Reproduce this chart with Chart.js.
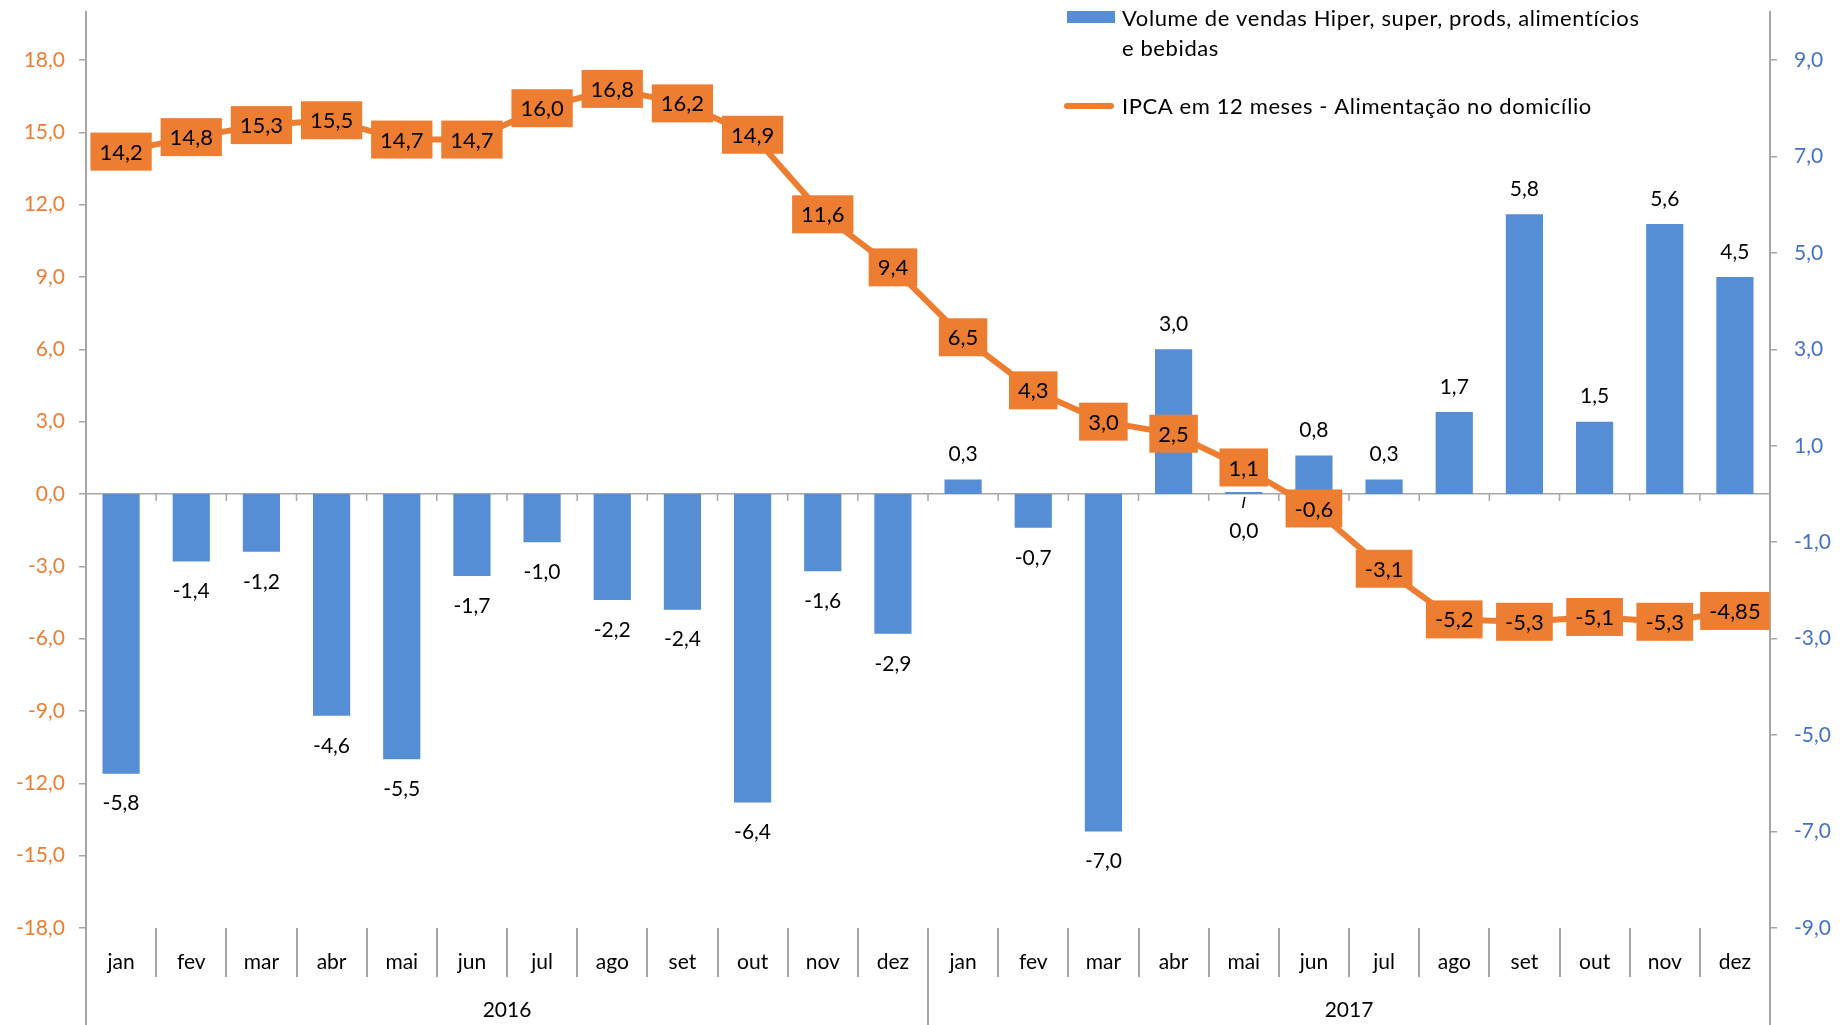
<!DOCTYPE html>
<html>
<head>
<meta charset="utf-8">
<script src="https://cdn.jsdelivr.net/npm/chart.js@4.4.1/dist/chart.umd.min.js"></script>
<style>
html,body{margin:0;padding:0;background:#fff;}
#wrap{position:relative;width:1847px;height:1025px;}
</style>
</head>
<body>
<div id="wrap"><canvas id="c" width="1847" height="1025"></canvas></div>
<script>
const months = ['jan','fev','mar','abr','mai','jun','jul','ago','set','out','nov','dez',
                'jan','fev','mar','abr','mai','jun','jul','ago','set','out','nov','dez'];
const years = ['2016','2017'];
const salesVolume = [-5.8,-1.4,-1.2,-4.6,-5.5,-1.7,-1.0,-2.2,-2.4,-6.4,-1.6,-2.9,
                     0.3,-0.7,-7.0,3.0,0.04,0.8,0.3,1.7,5.8,1.5,5.6,4.5];
const ipcaFood = [14.2,14.8,15.3,15.5,14.7,14.7,16.0,16.8,16.2,14.9,11.6,9.4,
                  6.5,4.3,3.0,2.5,1.1,-0.6,-3.1,-5.2,-5.3,-5.1,-5.3,-4.85];
const salesLabelLines = ['Volume de vendas Hiper, super, prods, alimentícios', 'e bebidas'];
const ipcaLabel = 'IPCA em 12 meses - Alimentação no domicílio';

const FONT = 'Lato, "Open Sans", sans-serif';
const ORANGE = '#ED7D31';
const BLUE = '#558ED5';
const AXISBLUE = '#4472C4';
const GRAY = '#a6a6a6';

function fmt(v){
  const r = Math.abs(Math.round(v*10) - v*10) < 1e-6;
  return (r ? v.toFixed(1) : v.toFixed(2)).replace('.', ',');
}
function fmt1(v){ return v.toFixed(1).replace('.', ','); }

const decor = {
  id: 'decor',
  afterDatasetsDraw(chart){
    const ctx = chart.ctx;
    const ca = chart.chartArea;
    const x = chart.scales.x, y2 = chart.scales.y2, y = chart.scales.y;
    ctx.save();
    // vertical axis lines
    ctx.strokeStyle = GRAY; ctx.lineWidth = 2;
    ctx.beginPath();
    ctx.moveTo(ca.left, 11); ctx.lineTo(ca.left, chart.height);
    ctx.moveTo(ca.right, 11); ctx.lineTo(ca.right, chart.height);
    ctx.stroke();
    // small tick marks on zero line
    const zeroY = y.getPixelForValue(0);
    ctx.lineWidth = 1.5;
    ctx.beginPath();
    const step = (ca.right - ca.left) / months.length;
    for (let i = 1; i < months.length; i++){
      const px = x.getPixelForValue(i) - step/2;
      ctx.moveTo(px, zeroY); ctx.lineTo(px, zeroY + 7);
    }
    ctx.stroke();
    // year separator and labels
    ctx.lineWidth = 2;
    ctx.beginPath();
    const sep = (x.getPixelForValue(11) + x.getPixelForValue(12)) / 2;
    ctx.moveTo(sep, ca.bottom); ctx.lineTo(sep, chart.height);
    ctx.stroke();
    ctx.fillStyle = '#000';
    ctx.font = '21px ' + FONT;
    ctx.textAlign = 'center'; ctx.textBaseline = 'middle';
    years.forEach((yr, k) => {
      const a = x.getPixelForValue(k*12), b = x.getPixelForValue(k*12 + 11);
      ctx.fillText(yr, (a + b)/2, 1010);
    });
    // bar labels
    const barMeta = chart.getDatasetMeta(1);
    barMeta.data.forEach((el, i) => {
      const v = salesVolume[i];
      let yy;
      if (v >= 0.1) yy = y2.getPixelForValue(v) - 25;
      else if (v >= 0) {
        yy = zeroY + 37;
        ctx.strokeStyle = '#000'; ctx.lineWidth = 1.5;
        ctx.beginPath(); ctx.moveTo(el.x + 1, zeroY + 3); ctx.lineTo(el.x - 1, zeroY + 14); ctx.stroke();
      }
      else yy = y2.getPixelForValue(v) + 30;
      ctx.fillText(fmt1(v), el.x, yy);
    });
    // line labels
    const lineMeta = chart.getDatasetMeta(0);
    ctx.font = '22px ' + FONT;
    lineMeta.data.forEach((el, i) => {
      const t = fmt(ipcaFood[i]);
      const w = ctx.measureText(t).width + 18;
      const h = 38;
      ctx.fillStyle = ORANGE;
      ctx.fillRect(el.x - w/2, el.y - h/2, w, h);
      ctx.fillStyle = '#000';
      ctx.fillText(t, el.x, el.y + 1);
    });
    // legend
    ctx.textAlign = 'left';
    ctx.font = '22px ' + FONT;
    try { ctx.letterSpacing = '0.6px'; } catch(e) {}
    ctx.fillStyle = BLUE;
    ctx.fillRect(1067, 11, 48, 12);
    ctx.fillStyle = '#000';
    ctx.fillText(salesLabelLines[0], 1122, 19);
    ctx.fillText(salesLabelLines[1], 1122, 49);
    ctx.strokeStyle = ORANGE; ctx.lineWidth = 6; ctx.lineCap = 'round';
    ctx.beginPath(); ctx.moveTo(1067, 106); ctx.lineTo(1111, 106); ctx.stroke();
    ctx.fillText(ipcaLabel, 1122, 107);
    ctx.restore();
  }
};

new Chart(document.getElementById('c'), {
  data: {
    labels: months,
    datasets: [
      { type: 'line', label: ipcaLabel, data: ipcaFood, yAxisID: 'y', borderColor: ORANGE,
        borderWidth: 6, pointRadius: 0, tension: 0, order: 0, borderJoinStyle: 'round' },
      { type: 'bar', label: salesLabelLines.join(' '), data: salesVolume, yAxisID: 'y2', backgroundColor: BLUE,
        categoryPercentage: 1, barPercentage: 0.53, order: 1 }
    ]
  },
  options: {
    responsive: false,
    animation: false,
    devicePixelRatio: 1,
    layout: { padding: { top: 60, bottom: 0, left: 0, right: 0 } },
    plugins: { legend: { display: false }, tooltip: { enabled: false } },
    scales: {
      x: {
        offset: true,
        border: { display: false },
        grid: { display: true, drawOnChartArea: false, drawTicks: true, tickLength: 49, color: GRAY, lineWidth: 2, offset: true },
        ticks: { color: '#000', font: { family: FONT, size: 21 }, padding: -27, maxRotation: 0, autoSkip: false },
        afterFit(s){ s.height = 97; }
      },
      y: {
        position: 'left', min: -18, max: 18,
        border: { display: false },
        grid: { drawOnChartArea: true, drawTicks: true, tickLength: 7, tickColor: GRAY, lineWidth: 1.5,
                color: c => c.tick && c.tick.value === 0 ? GRAY : 'rgba(0,0,0,0)' },
        ticks: { stepSize: 3, color: ORANGE, font: { family: FONT, size: 21 }, padding: 14,
                 callback: v => fmt1(v) },
        afterFit(s){ s.width = 86; }
      },
      y2: {
        position: 'right', min: -9, max: 9,
        border: { display: false },
        grid: { drawOnChartArea: false, drawTicks: true, tickLength: 7, tickColor: GRAY, lineWidth: 1.5 },
        ticks: { stepSize: 2, color: AXISBLUE, font: { family: FONT, size: 21 }, padding: 17,
                 callback: v => fmt1(v) },
        afterFit(s){ s.width = 77; }
      }
    }
  },
  plugins: [decor]
});
</script>
</body>
</html>
